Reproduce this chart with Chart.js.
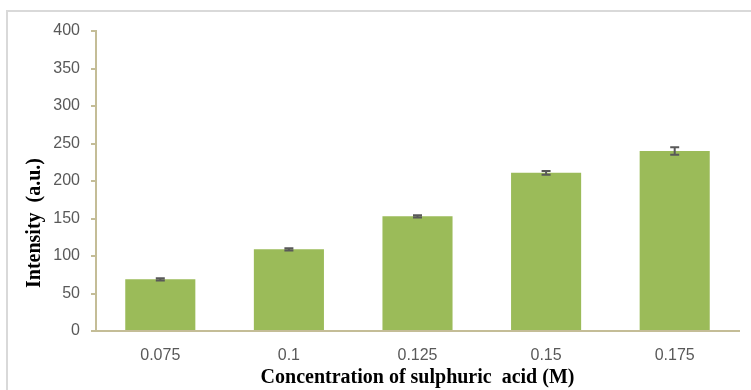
<!DOCTYPE html>
<html>
<head>
<meta charset="utf-8">
<script src="https://cdn.jsdelivr.net/npm/chart.js@4/dist/chart.umd.min.js"></script>
<style>
  html, body { margin: 0; padding: 0; background: #ffffff; overflow: hidden; }
  #c { display: block; }
</style>
</head>
<body>
<canvas id="c" width="751" height="390"></canvas>
<script>
// Sulphuric acid concentration (M) vs. signal intensity
const concentrations = ['0.075', '0.1', '0.125', '0.15', '0.175'];
const intensity = [69, 109, 153, 211, 240];
const intensityError = [1.5, 1.5, 1.5, 2.5, 5];

const axisColor = '#c4bd97';
const labelColor = '#595959';

// Light outer frame along the top and left edges
const outerFrame = {
  id: 'outerFrame',
  beforeDraw(chart) {
    const ctx = chart.ctx;
    ctx.save();
    ctx.fillStyle = '#d9d9d9';
    ctx.fillRect(6, 10, chart.width - 6, 2);
    ctx.fillRect(6, 10, 2, chart.height - 10);
    ctx.restore();
  }
};

// Draws the ± error whiskers on top of each bar
const errorBars = {
  id: 'errorBars',
  afterDatasetsDraw(chart) {
    const meta = chart.getDatasetMeta(0);
    const y = chart.scales.y;
    const ctx = chart.ctx;
    ctx.save();
    ctx.strokeStyle = '#595959';
    ctx.lineWidth = 2;
    meta.data.forEach((bar, i) => {
      const v = intensity[i], e = intensityError[i];
      const yTop = y.getPixelForValue(v + e);
      const yBot = y.getPixelForValue(v - e);
      const x = bar.x;
      ctx.beginPath();
      ctx.moveTo(x, yTop); ctx.lineTo(x, yBot);
      ctx.moveTo(x - 4.5, yTop); ctx.lineTo(x + 4.5, yTop);
      ctx.moveTo(x - 4.5, yBot); ctx.lineTo(x + 4.5, yBot);
      ctx.stroke();
    });
    ctx.restore();
  }
};

// Category axis line, limited to the plot area width
const baseLine = {
  id: 'baseLine',
  afterDatasetsDraw(chart) {
    const { ctx, chartArea } = chart;
    const y0 = chart.scales.y.getPixelForValue(0);
    ctx.save();
    ctx.strokeStyle = axisColor;
    ctx.lineWidth = 2;
    ctx.beginPath();
    ctx.moveTo(chartArea.left - 5, y0);
    ctx.lineTo(chartArea.right + 1, y0);
    ctx.stroke();
    ctx.restore();
  }
};

// Vertical axis title, placed beside the value axis
const yTitle = {
  id: 'yTitle',
  afterDraw(chart) {
    const ctx = chart.ctx;
    ctx.save();
    ctx.translate(35, 223);
    ctx.rotate(-Math.PI / 2);
    ctx.font = 'bold 20px "Liberation Serif", "Times New Roman", serif';
    ctx.fillStyle = '#000000';
    ctx.textAlign = 'center';
    ctx.textBaseline = 'middle';
    ctx.fillText('Intensity  (a.u.)', 0, 0);
    ctx.restore();
  }
};

new Chart(document.getElementById('c'), {
  type: 'bar',
  data: {
    labels: concentrations,
    datasets: [{
      data: intensity,
      backgroundColor: '#9bbb59',
      borderWidth: 0,
      barPercentage: 0.545,
      categoryPercentage: 1.0
    }]
  },
  options: {
    responsive: false,
    animation: false,
    devicePixelRatio: 1,
    layout: { padding: { left: 0, right: 12, top: 31, bottom: 0 } },
    plugins: { legend: { display: false }, tooltip: { enabled: false } },
    scales: {
      x: {
        grid: { display: false, drawTicks: false },
        border: { display: false },
        ticks: {
          color: labelColor,
          padding: 15,
          font: { family: '"Liberation Sans", Arial, sans-serif', size: 16 }
        },
        title: {
          display: true,
          text: 'Concentration of sulphuric  acid (M)',
          color: '#000000',
          padding: { top: 0, bottom: 0 },
          font: { family: '"Liberation Serif", "Times New Roman", serif', size: 20, weight: 'bold' }
        },
        afterFit(scale) { scale.height = 59; }
      },
      y: {
        min: 0,
        max: 400,
        ticks: {
          stepSize: 50,
          color: labelColor,
          padding: 11,
          font: { family: '"Liberation Sans", Arial, sans-serif', size: 16 }
        },
        grid: {
          drawOnChartArea: false,
          drawTicks: true,
          tickLength: 5,
          color: axisColor,
          lineWidth: 2
        },
        border: { color: axisColor, width: 2 },
        afterFit(scale) { scale.width = 96; }
      }
    }
  },
  plugins: [outerFrame, errorBars, baseLine, yTitle]
});
</script>
</body>
</html>
